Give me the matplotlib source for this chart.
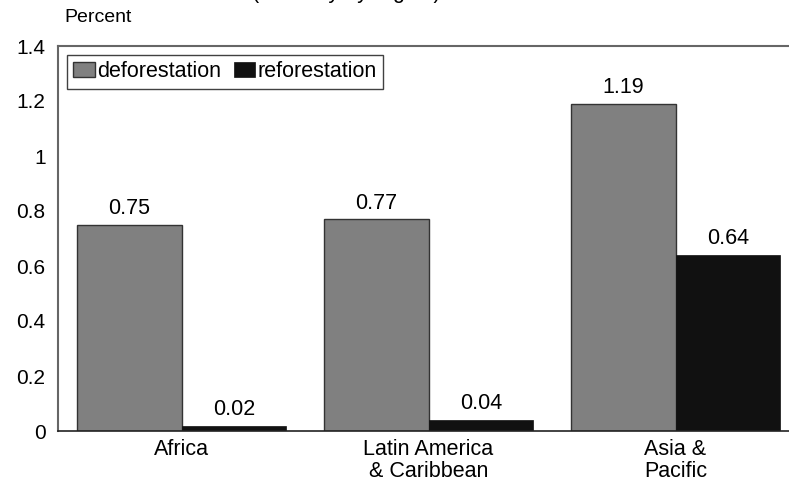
import matplotlib
matplotlib.use("Agg")
import matplotlib.pyplot as plt
import numpy as np

categories = ["Africa", "Latin America\n& Caribbean", "Asia &\nPacific"]
deforestation = [0.75, 0.77, 1.19]
reforestation = [0.02, 0.04, 0.64]
series_names = ["deforestation", "reforestation"]
yticks = [0, 0.2, 0.4, 0.6, 0.8, 1, 1.2, 1.4]
ytick_labels = ["0", "0.2", "0.4", "0.6", "0.8", "1", "1.2", "1.4"]

plt.rcParams['font.family'] = ['Liberation Sans', 'DejaVu Sans']
FS = 15.5

fig = plt.figure(figsize=(7.89, 4.90), dpi=100)
ax = fig.add_axes([58/789, 59/490, 741/789, 385/490])

x = np.arange(len(categories))
w = 0.425
b1 = ax.bar(x - w/2, deforestation, w, color="#808080", edgecolor="#333333", linewidth=1.0, label=series_names[0])
b2 = ax.bar(x + w/2, reforestation, w, color="#111111", edgecolor="#111111", linewidth=0.5, label=series_names[1])

for bars, vals in ((b1, deforestation), (b2, reforestation)):
    for r, v in zip(bars, vals):
        ax.annotate(f"{v:.2f}", (r.get_x() + r.get_width()/2, v), xytext=(0, 4),
                    textcoords="offset points", ha="center", va="bottom", fontsize=FS)

ax.set_xlim(-0.5, 2.5)
ax.set_ylim(0, 1.4)
ax.set_yticks(yticks)
ax.set_yticklabels(ytick_labels)
ax.set_xticks(x)
ax.set_xticklabels(categories, linespacing=1.05)
ax.tick_params(axis="y", length=0, pad=9, labelsize=FS - 0.5)
ax.tick_params(axis="x", length=0, pad=6, labelsize=FS)

for s in ("top", "left", "right"):
    ax.spines[s].set_color("#666666")
    ax.spines[s].set_linewidth(1.5)
ax.spines["bottom"].set_color("#222222")
ax.spines["bottom"].set_linewidth(1.2)

leg = ax.legend(loc="upper left", ncol=2, fontsize=FS, frameon=True, fancybox=False,
                edgecolor="#111111", borderaxespad=0.4, borderpad=0.3,
                handlelength=1.0, handleheight=0.7, handletextpad=0.1,
                columnspacing=0.6)
leg.get_frame().set_linewidth(1.0)

fig.text(64/789, 1 - 17/490, "Percent", fontsize=FS - 1.5, ha="left", va="center")
fig.text(346/789, 1 + 2/490, "(annually by region)", fontsize=FS, ha="center", va="baseline")

fig.savefig("out.png", dpi=100)
